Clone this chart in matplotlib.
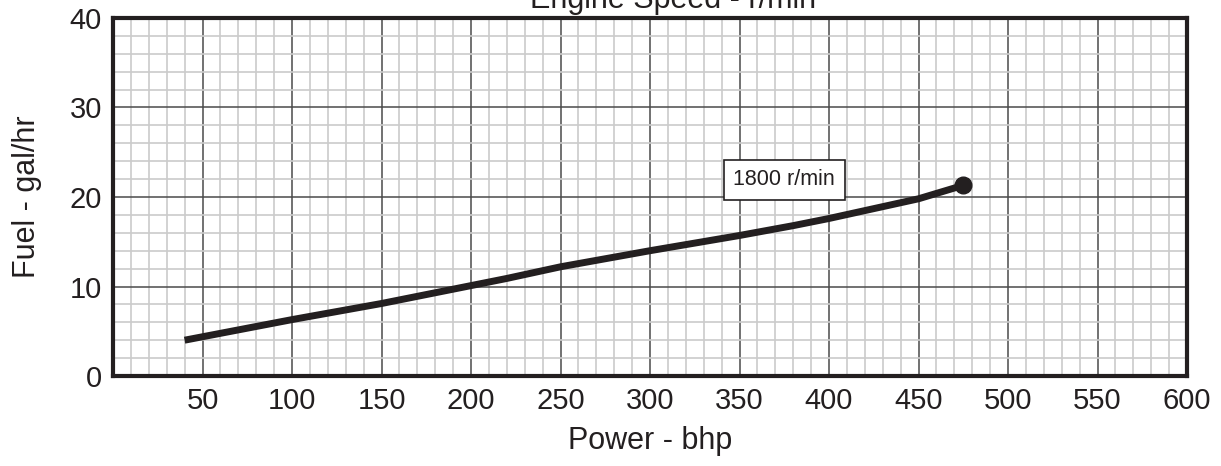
import matplotlib
matplotlib.use("Agg")
import matplotlib.pyplot as plt
from matplotlib.ticker import MultipleLocator

plt.rcParams['font.family'] = ['Liberation Sans', 'DejaVu Sans']

power = [40, 100, 150, 200, 220, 250, 300, 350, 380, 400, 450, 475]
fuel = [4.0, 6.3, 8.1, 10.1, 10.9, 12.2, 14.0, 15.7, 16.8, 17.6, 19.8, 21.3]
label_text = "1800 r/min"
label_pos = (375, 21.9)
xticks = [50, 100, 150, 200, 250, 300, 350, 400, 450, 500, 550, 600]
yticks = [0, 10, 20, 30, 40]

fig = plt.figure(figsize=(12.21, 4.66), dpi=100)
ax = fig.add_axes([113/1221, 1-376/466, (1187-113)/1221, (376-18)/466])
ax.set_xlim(0, 600)
ax.set_ylim(0, 40)
ax.xaxis.set_minor_locator(MultipleLocator(10))
ax.yaxis.set_minor_locator(MultipleLocator(2))
ax.set_xticks(xticks)
ax.set_yticks(yticks)
ax.grid(which='minor', color='#cbcbcb', linewidth=1.2)
ax.grid(which='major', color='#4a4a4a', linewidth=1.1)
ax.set_axisbelow(True)
ax.tick_params(which='both', length=0, labelsize=21, colors='#231f20', pad=8)
for s in ax.spines.values():
    s.set_linewidth(3)
    s.set_color('#231f20')

ax.plot(power, fuel, color='#231f20', linewidth=5, solid_capstyle='butt')
ax.plot(power[-1], fuel[-1], 'o', color='#231f20', markersize=12)
ax.text(label_pos[0], label_pos[1], label_text, ha='center', va='center', fontsize=15.5,
        color='#231f20',
        bbox=dict(boxstyle='square,pad=0.45', fc='white', ec='#231f20', lw=1.2))

ax.set_xlabel('Power - bhp', fontsize=22, color='#231f20', labelpad=8)
ax.set_ylabel('Fuel - gal/hr', fontsize=22, color='#231f20', labelpad=20)
fig.text(673/1221, 1-8/466, 'Engine Speed - r/min', ha='center', va='baseline', fontsize=22, color='#231f20')

fig.savefig('out.png', dpi=100)
